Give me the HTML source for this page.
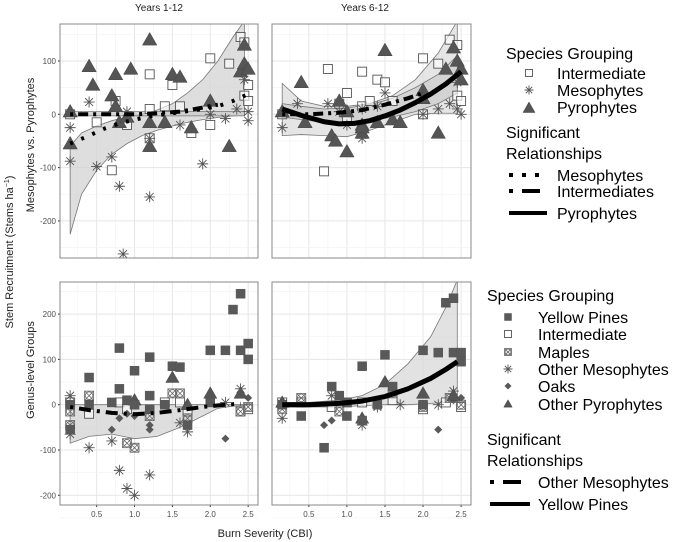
<!DOCTYPE html>
<html><head><meta charset="utf-8"><style>
body{margin:0;background:#fff;}
svg{display:block;font-family:"Liberation Sans",Arial,sans-serif;}
</style></head><body>
<svg id="chart" width="685" height="542" viewBox="0 0 685 542"></svg>
<script>
// ---------- DATA ----------
const xTicks=[0.5,1.0,1.5,2.0,2.5];
const xTickLabels=["0.5","1.0","1.5","2.0","2.5"];
const topYTicks=[100,0,-100,-200];
const botYTicks=[200,100,0,-100,-200];
// Top-left (Years 1-12)
const tlTri=[[0.15,5],[0.15,-55],[0.4,90],[0.45,55],[0.7,35],[0.75,75],[0.75,15],[0.8,-15],[0.9,-5],[0.95,85],[1.2,140],[1.2,-15],[1.2,-60],[1.4,-15],[1.5,75],[1.6,70],[1.75,-25],[2.0,25],[2.25,-60],[2.4,80],[2.45,95],[2.45,130],[2.5,85]];
const tlSq=[[0.15,0],[0.5,-15],[0.7,-105],[0.75,25],[0.9,-20],[1.2,75],[1.2,10],[1.2,-45],[1.4,15],[1.5,55],[1.6,15],[1.75,-35],[2.0,105],[2.0,-20],[2.25,95],[2.4,145],[2.45,135],[2.45,35],[2.5,55],[2.5,25]];
const tlAst=[[0.15,-25],[0.15,-88],[0.4,23],[0.5,-98],[0.7,-80],[0.8,-135],[0.85,-262],[0.9,5],[1.2,-155],[1.2,-45],[1.6,-20],[1.9,-93],[2.0,0],[2.2,-8],[2.35,10],[2.45,65],[2.5,-12],[2.5,5]];
const tlMesoLine=[[0.15,-55],[0.4,-40],[0.6,-27],[0.8,-17],[1.0,-10],[1.2,-4],[1.5,2],[1.8,8],[2.1,15],[2.3,25],[2.5,38]];
const tlIntLine=[[0.15,0],[0.5,0],[1.0,0],[1.3,2],[1.6,5],[1.8,10],[2.1,18]];
const tlRibX=[0.15,0.3,0.5,0.7,0.9,1.1,1.3,1.5,1.7,1.9,2.1,2.3,2.45];
const tlRibLo=[-225,-150,-105,-75,-55,-40,-30,-22,-15,-10,-6,-3,-2];
const tlRibHi=[-60,-35,-22,-12,-5,0,8,20,40,65,100,145,175];
const tlRib2Lo=[-3,-3,-3,-3,-3,-3,-3,-3,-3,-3,-3,-3,-3];
const tlRib2Hi=[5,5,5,5,5,5,5,5,5,5,5,5,5];
// Top-right (Years 6-12)
const trTri=[[0.15,5],[0.4,60],[0.45,-15],[0.8,-40],[0.85,-50],[0.9,25],[1.0,-70],[1.0,5],[1.2,-20],[1.2,-35],[1.2,-25],[1.4,-15],[1.5,120],[1.6,-10],[1.7,-15],[2.0,45],[2.0,30],[2.2,-35],[2.3,85],[2.4,125],[2.45,100],[2.5,85],[2.5,65]];
const trSq=[[0.15,0],[0.7,-107],[0.75,85],[0.9,20],[1.0,40],[1.0,-5],[1.2,80],[1.2,15],[1.4,65],[1.5,60],[1.6,25],[2.0,105],[2.0,0],[2.2,95],[2.35,140],[2.45,130],[2.45,35],[2.5,25],[1.3,25]];
const trAst=[[0.15,-25],[0.35,20],[0.75,20],[0.9,5],[1.0,-20],[1.2,-45],[1.2,10],[1.4,15],[1.5,40],[2.0,0],[2.2,10],[2.35,20],[2.45,10],[2.5,0],[2.45,60]];
const trPyroLine=[[0.15,10],[0.4,-2],[0.7,-14],[0.9,-18],[1.1,-17],[1.3,-12],[1.5,-3],[1.7,8],[1.9,22],[2.1,38],[2.3,57],[2.5,80]];
const trIntLine=[[0.15,0],[0.5,0],[0.9,3],[1.2,8],[1.5,18],[1.8,30],[2.0,40]];
const trRibX=[0.15,0.4,0.7,1.0,1.3,1.6,1.9,2.2,2.45];
const trRibLo=[-40,-38,-40,-42,-30,-15,0,2,2];
const trRibHi=[58,25,15,15,20,35,65,115,175];
const trRib2Lo=[-5,-10,-15,-15,-12,-5,5,20,40];
const trRib2Hi=[20,15,10,12,18,30,50,75,110];
// Bottom-left (Years 1-12 genus)
const blPine=[[0.15,-55],[0.15,0],[0.4,60],[0.4,0],[0.7,5],[0.8,125],[0.8,35],[0.9,10],[1.0,75],[1.0,0],[1.2,105],[1.2,20],[1.2,-10],[1.4,0],[1.5,85],[1.6,83],[1.7,-45],[2.0,120],[2.0,5],[2.2,120],[2.3,210],[2.4,245],[2.4,120],[2.5,135],[2.5,100]];
const blInt=[[0.15,5],[0.4,-20],[0.8,5],[0.9,-10],[1.4,5],[1.6,5],[1.7,-15],[2.4,-15],[2.5,-10]];
const blMaple=[[0.15,-15],[0.15,-45],[0.4,20],[0.9,-85],[1.0,-95],[1.2,-25],[1.5,25],[1.6,25],[1.7,-30],[2.4,-15],[2.5,-5]];
const blAst=[[0.15,20],[0.15,-65],[0.4,-95],[0.7,-80],[0.8,-145],[0.9,-185],[1.0,-200],[1.2,-155],[1.6,-40],[1.7,-60],[2.4,35],[2.2,5]];
const blOak=[[0.7,-55],[0.8,-30],[0.9,-20],[1.2,-55],[1.2,-45],[2.2,-75],[2.5,15],[1.0,-25]];
const blTri=[[1.5,60],[2.0,25],[2.4,25],[1.0,10],[1.7,0]];
const blMesoLine=[[0.15,-5],[0.4,-12],[0.7,-18],[1.0,-21],[1.3,-18],[1.6,-12],[1.9,-5],[2.2,0],[2.4,2]];
const blRibX=[0.15,0.4,0.7,1.0,1.3,1.6,1.9,2.1,2.3,2.5];
const blRibLo=[-85,-70,-65,-75,-70,-50,-25,-8,-3,-2];
const blRibHi=[0,0,0,0,0,0,0,0,0,0];
// Bottom-right (Years 6-12 genus)
const brPine=[[0.15,0],[0.4,-25],[0.7,-95],[0.8,40],[0.9,20],[1.0,-25],[1.0,5],[1.2,85],[1.2,-35],[1.4,0],[1.5,110],[1.6,40],[2.0,120],[2.0,0],[2.2,115],[2.3,225],[2.4,235],[2.4,115],[2.5,115],[2.5,95]];
const brInt=[[0.15,5],[0.4,5],[0.8,-5],[1.2,5],[1.6,10],[2.0,-10],[2.3,5],[2.5,-5]];
const brMaple=[[0.15,-10],[0.4,15],[0.9,-15],[1.0,5],[1.6,25],[2.0,-5],[2.35,15],[2.5,0]];
const brAst=[[0.15,-30],[0.8,20],[1.2,-45],[1.4,-5],[1.7,0],[2.4,30],[2.2,0]];
const brOak=[[0.7,-45],[0.8,-35],[2.2,-55],[2.4,10],[2.5,15]];
const brTri=[[1.5,50],[2.0,25],[2.4,20],[1.2,-30],[0.15,5]];
const brPineLine=[[0.15,0],[0.5,0],[0.9,3],[1.2,8],[1.5,18],[1.8,35],[2.1,58],[2.3,78],[2.45,95]];
const brRibX=[0.15,0.5,0.9,1.2,1.5,1.8,2.1,2.3,2.45];
const brRibLo=[-5,-5,-5,-2,0,0,3,5,5];
const brRibHi=[5,5,10,20,45,90,150,215,275];

// ---------- LAYOUT ----------
const svg=document.getElementById('chart');
const NS='http://www.w3.org/2000/svg';
function mk(tag,attrs,parent){const e=document.createElementNS(NS,tag);for(const k in attrs)e.setAttribute(k,attrs[k]);(parent||svg).appendChild(e);return e;}
const panels={
 tl:{x0:60,x1:258,y0:24,y1:258,yv0:114.3,yk:0.533,ticks:topYTicks,mn:-270,mx:170,showX:false,showY:true},
 tr:{x0:272,x1:471,y0:24,y1:258,yv0:114.3,yk:0.533,ticks:topYTicks,mn:-270,mx:170,showX:false,showY:false},
 bl:{x0:60,x1:258,y0:282,y1:505,yv0:404.7,yk:0.453,ticks:botYTicks,mn:-230,mx:270,showX:true,showY:true},
 br:{x0:272,x1:471,y0:282,y1:505,yv0:404.7,yk:0.453,ticks:botYTicks,mn:-230,mx:270,showX:true,showY:false}
};
function sx(p,v){return p.x0+(v-0.016)/(2.63-0.016)*(p.x1-p.x0);}
function sy(p,v){return p.yv0-v*p.yk;}
function frame(p,name){
  const g=mk('g',{});
  
  
  mk('rect',{x:p.x0,y:p.y0,width:p.x1-p.x0,height:p.y1-p.y0,fill:'#fff'},g);
  const clip=mk('clipPath',{id:'c'+name},g);
  mk('rect',{x:p.x0,y:p.y0,width:p.x1-p.x0,height:p.y1-p.y0},clip);
  for(let v=0.25;v<2.63;v+=0.5){mk('line',{x1:sx(p,v),x2:sx(p,v),y1:p.y0,y2:p.y1,stroke:'#f2f2f2','stroke-width':0.6},g);}
  xTicks.forEach(v=>mk('line',{x1:sx(p,v),x2:sx(p,v),y1:p.y0,y2:p.y1,stroke:'#e6e6e6','stroke-width':1},g));
  p.ticks.forEach(v=>{mk('line',{x1:p.x0,x2:p.x1,y1:sy(p,v),y2:sy(p,v),stroke:'#e6e6e6','stroke-width':1},g);
    const m=v+50; if(m<p.mx) mk('line',{x1:p.x0,x2:p.x1,y1:sy(p,m),y2:sy(p,m),stroke:'#f2f2f2','stroke-width':0.6},g);});
  mk('line',{x1:p.x0,x2:p.x1,y1:sy(p,-250),y2:sy(p,-250),stroke:'#f2f2f2','stroke-width':0.6},g);
  if(p.showY) p.ticks.forEach(v=>{const t=mk('text',{x:p.x0-4,y:sy(p,v)+3,'font-size':8,fill:'#4d4d4d','text-anchor':'end'},g);t.textContent=v;
    mk('line',{x1:p.x0-2,x2:p.x0,y1:sy(p,v),y2:sy(p,v),stroke:'#333'},g);});
  if(p.showX) xTicks.forEach((v,i)=>{const t=mk('text',{x:sx(p,v),y:p.y1+12,'font-size':8,fill:'#4d4d4d','text-anchor':'middle'},g);t.textContent=xTickLabels[i];
    mk('line',{x1:sx(p,v),x2:sx(p,v),y1:p.y1,y2:p.y1+2,stroke:'#333'},g);});
  const inner=mk('g',{'clip-path':'url(#c'+name+')'},g);
  return {g,inner};
}
function ribbon(par,p,xs,lo,hi,fill,name){
  let d='M'+xs.map((x,i)=>sx(p,x)+','+sy(p,hi[i])).join('L');
  for(let i=xs.length-1;i>=0;i--) d+='L'+sx(p,xs[i])+','+sy(p,lo[i]);
  const e=mk('path',{d:d+'Z',fill:fill,'fill-opacity':0.75,stroke:'#777','stroke-width':0.8},par);
  
  
}
function line(par,p,pts,w,dash,name){
  const e=mk('path',{d:'M'+pts.map(q=>sx(p,q[0])+','+sy(p,q[1])).join('L'),fill:'none',stroke:'#000','stroke-width':w,'stroke-dasharray':dash,'stroke-linejoin':'round'},par);
  
  
}
function marker(par,type,cx,cy,s){
  if(type==='tri') return mk('path',{d:`M${cx},${cy-s*0.6}L${cx+s*0.6},${cy+s*0.45}L${cx-s*0.6},${cy+s*0.45}Z`,fill:'#555',stroke:'#444','stroke-width':0.5},par);
  if(type==='sq') return mk('rect',{x:cx-s/2,y:cy-s/2,width:s,height:s,fill:'#fff','fill-opacity':0.6,stroke:'#555','stroke-width':0.9},par);
  if(type==='fsq') return mk('rect',{x:cx-s/2,y:cy-s/2,width:s,height:s,fill:'#595959',stroke:'#555','stroke-width':0.5},par);
  if(type==='dia') return mk('path',{d:`M${cx},${cy-s/2}L${cx+s/2},${cy}L${cx},${cy+s/2}L${cx-s/2},${cy}Z`,fill:'#595959'},par);
  if(type==='map'){const g=mk('g',{},par);mk('rect',{x:cx-s/2,y:cy-s/2,width:s,height:s,fill:'none',stroke:'#666','stroke-width':0.8},g);
    mk('circle',{cx:cx,cy:cy,r:s*0.42,fill:'none',stroke:'#666','stroke-width':0.8},g);
    mk('path',{d:`M${cx-s/2},${cy-s/2}L${cx+s/2},${cy+s/2}M${cx+s/2},${cy-s/2}L${cx-s/2},${cy+s/2}`,stroke:'#666','stroke-width':0.8},g);return g;}
  if(type==='ast'){const r=s/2;let d='';for(let k=0;k<4;k++){const a=k*Math.PI/4;d+=`M${cx-r*Math.cos(a)},${cy-r*Math.sin(a)}L${cx+r*Math.cos(a)},${cy+r*Math.sin(a)}`;}
    return mk('path',{d:d,stroke:'#555','stroke-width':0.9},par);}
}
function points(par,p,pts,type,s,name){
  pts.forEach(q=>{const e=marker(par,type,sx(p,q[0]),sy(p,q[1]),s);
    
    });
}
function text(x,y,str,size,name,anchor,rot,fill){
  const t=mk('text',{x:x,y:y,'font-size':size,fill:fill||'#000','text-anchor':anchor||'start'});
  if(rot) t.setAttribute('transform',`rotate(-90 ${x} ${y})`);
  t.textContent=str;
  
  
  return t;
}
// TL
let P=panels.tl,F=frame(P,'panel-years-1-12-groups');
ribbon(F.inner,P,tlRibX,tlRibLo,tlRibHi,'#d3d3d3','ribbon-mesophytes');
ribbon(F.inner,P,tlRibX,tlRib2Lo,tlRib2Hi,'#cccccc','ribbon-intermediates');
points(F.inner,P,tlSq,'sq',9,'point-intermediate');
points(F.inner,P,tlTri,'tri',12,'point-pyrophyte');
points(F.inner,P,tlAst,'ast',11,'point-mesophyte');
line(F.inner,P,tlMesoLine,4,'3 9','trend-mesophytes');
line(F.inner,P,tlIntLine,4,'3 5 10 5','trend-intermediates');
mk('rect',{x:P.x0,y:P.y0,width:P.x1-P.x0,height:P.y1-P.y0,fill:'none',stroke:'#888'},F.g);
// TR
P=panels.tr;F=frame(P,'panel-years-6-12-groups');
ribbon(F.inner,P,trRibX,trRibLo,trRibHi,'#dcdcdc','ribbon-pyrophytes');
ribbon(F.inner,P,trRibX,trRib2Lo,trRib2Hi,'#cccccc','ribbon-intermediates');
points(F.inner,P,trSq,'sq',9,'point-intermediate');
points(F.inner,P,trTri,'tri',12,'point-pyrophyte');
points(F.inner,P,trAst,'ast',11,'point-mesophyte');
line(F.inner,P,trIntLine,4,'3 5 10 5','trend-intermediates');
line(F.inner,P,trPyroLine,5,'','trend-pyrophytes');
mk('rect',{x:P.x0,y:P.y0,width:P.x1-P.x0,height:P.y1-P.y0,fill:'none',stroke:'#888'},F.g);
// BL
P=panels.bl;F=frame(P,'panel-years-1-12-genus');
ribbon(F.inner,P,blRibX,blRibLo,blRibHi,'#d3d3d3','ribbon-other-mesophytes');
points(F.inner,P,blInt,'sq',9,'point-intermediate');
points(F.inner,P,blMaple,'map',9,'point-maple');
points(F.inner,P,blAst,'ast',11,'point-other-mesophyte');
points(F.inner,P,blOak,'dia',8,'point-oak');
points(F.inner,P,blTri,'tri',11,'point-other-pyrophyte');
points(F.inner,P,blPine,'fsq',9,'point-yellow-pine');
line(F.inner,P,blMesoLine,4,'3 6 12 6','trend-other-mesophytes');
mk('rect',{x:P.x0,y:P.y0,width:P.x1-P.x0,height:P.y1-P.y0,fill:'none',stroke:'#888'},F.g);
// BR
P=panels.br;F=frame(P,'panel-years-6-12-genus');
ribbon(F.inner,P,brRibX,brRibLo,brRibHi,'#d8d8d8','ribbon-yellow-pines');
points(F.inner,P,brInt,'sq',9,'point-intermediate');
points(F.inner,P,brMaple,'map',9,'point-maple');
points(F.inner,P,brAst,'ast',11,'point-other-mesophyte');
points(F.inner,P,brOak,'dia',8,'point-oak');
points(F.inner,P,brTri,'tri',11,'point-other-pyrophyte');
points(F.inner,P,brPine,'fsq',9,'point-yellow-pine');
line(F.inner,P,brPineLine,5,'','trend-yellow-pines');
mk('rect',{x:P.x0,y:P.y0,width:P.x1-P.x0,height:P.y1-P.y0,fill:'none',stroke:'#888'},F.g);

// titles
text(159,11,'Years 1-12',10,'panel-title-years-1-12','middle',false,'#222');
text(365,11,'Years 6-12',10,'panel-title-years-6-12','middle',false,'#222');
text(265,537,'Burn Severity (CBI)',11,'x-axis-title','middle',false,'#222');
const yt=text(13,252,'',11,'y-axis-title','middle',true,'#222');
yt.innerHTML='Stem Recruitment (Stems  ha<tspan dy="-4" font-size="7">−1</tspan><tspan dy="4">)</tspan>';
text(34,145,'Mesophytes vs. Pyrophytes',11,'y-axis-title-top','middle',true,'#222');
text(34,370,'Genus-level Groups',11,'y-axis-title-bottom','middle',true,'#222');

// legend top
text(506,59,'Species Grouping',16,'legend-title-top');
function legM(type,x,y,s,name){const e=marker(svg,type,x,y,s);}
legM('sq',529,73,7,'legend-symbol-intermediate');text(557,79,'Intermediate',16,'legend-label-intermediate');
legM('ast',529,90,9,'legend-symbol-mesophytes');text(557,96,'Mesophytes',16,'legend-label-mesophytes');
legM('tri',529,108,10,'legend-symbol-pyrophytes');text(557,113,'Pyrophytes',16,'legend-label-pyrophytes');
text(506,138,'Significant',16,'legend-title-relationships-1');
text(506,159,'Relationships',16,'legend-title-relationships-2');
function legL(x1,x2,y,w,dash,name){const e=mk('line',{x1:x1,x2:x2,y1:y,y2:y,stroke:'#000','stroke-width':w,'stroke-dasharray':dash});}
legL(509,547,175,4,'4 9','legend-line-mesophytes');text(557,181,'Mesophytes',16,'legend-label-sig-mesophytes');
legL(509,547,191,4,'4 9 14 0','legend-line-intermediates');text(557,197,'Intermediates',16,'legend-label-sig-intermediates');
legL(509,547,213,4,'','legend-line-pyrophytes');text(557,219,'Pyrophytes',16,'legend-label-sig-pyrophytes');
// legend bottom
text(487,301,'Species Grouping',16,'legend-title-bottom');
const bl=[['fsq','Yellow Pines',317],['sq','Intermediate',334],['map','Maples',352],['ast','Other Mesophytes',369],['dia','Oaks',386],['tri','Other Pyrophytes',404]];
bl.forEach(b=>{legM(b[0],508,b[2],b[0]==='ast'?9:7,'legend-symbol-'+b[1].toLowerCase().replace(/ /g,'-'));text(538,b[2]+6,b[1],16,'legend-label-'+b[1].toLowerCase().replace(/ /g,'-'));});
text(487,445,'Significant',16,'legend-title-relationships-bottom-1');
text(487,466,'Relationships',16,'legend-title-relationships-bottom-2');
legL(490,530,482,4,'4 9 14 0','legend-line-other-mesophytes');text(538,488,'Other Mesophytes',16,'legend-label-sig-other-mesophytes');
legL(490,530,504,4,'','legend-line-yellow-pines');text(538,510,'Yellow Pines',16,'legend-label-sig-yellow-pines');
</script>
</body></html>
